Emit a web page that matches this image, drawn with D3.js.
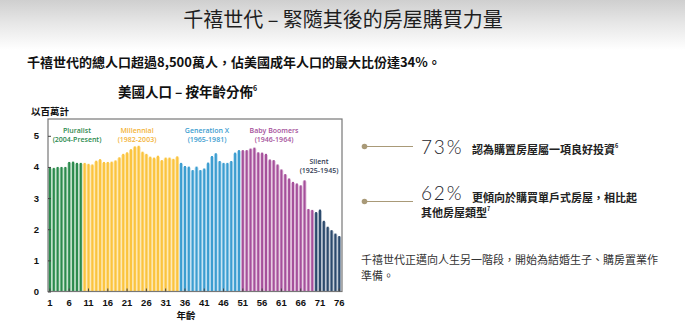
<!DOCTYPE html>
<html><head><meta charset="utf-8">
<script src="https://cdn.jsdelivr.net/npm/d3@7"></script>
<style>
body{margin:0;background:#fff;}
svg{display:block;font-family:"Noto Sans CJK TC","Noto Sans",sans-serif;}
</style></head>
<body>
<svg id="c" width="685" height="326"></svg>
<script>
// ---- data ----
const ages = [1,2,3,4,5,6,7,8,9,10,11,12,13,14,15,16,17,18,19,20,21,22,23,24,25,26,27,28,29,30,31,32,33,34,35,36,37,38,39,40,41,42,43,44,45,46,47,48,49,50,51,52,53,54,55,56,57,58,59,60,61,62,63,64,65,66,67,68,69,70,71,72,73,74,75,76];
const population = [
  3.98,3.97,4.00,4.00,4.00,4.16,4.17,4.13,4.13,
  4.13,4.10,4.08,4.20,4.25,4.16,4.16,4.17,4.21,4.31,4.42,4.47,4.57,4.66,4.68,4.49,4.42,4.33,4.30,4.36,4.22,4.30,4.30,4.26,4.34,
  4.13,4.03,4.01,3.90,4.01,3.90,3.95,4.14,4.35,4.44,4.19,4.13,4.13,4.19,4.46,4.54,
  4.54,4.54,4.59,4.62,4.47,4.46,4.42,4.24,4.22,4.08,3.92,3.77,3.63,3.52,3.47,3.41,3.57,2.65,2.62,
  2.55,2.63,2.27,2.08,1.97,1.86,1.78];
const generations = ["Pluralist","Millennial","Generation X","Baby Boomers","Silent"];
const genYears = ["(2004-Present)","(1982-2003)","(1965-1981)","(1946-1964)","(1925-1945)"];
const genFirstAge = [1,10,35,51,70];
const genLastAge = [9,34,50,69,76];
const yTicks = [0,1,2,3,4,5];
const xTicks = [1,6,11,16,21,26,31,36,41,46,51,56,61,66,71,76];

// ---- style ----
const dark = ["#2b8a4d","#fbc43e","#3b9dd0","#a5509b","#2c4a6c"];
const pale = ["#b9dcc3","#fde3a3","#b8dcf0","#e2c0dc","#b4bfcd"];
const labelCol = ["#2b8a4d","#f3b43a","#3b9dd0","#a5509b","#333b55"];

const svg = d3.select("#c");
const defs = svg.append("defs");
const g = defs.append("linearGradient").attr("id","bg").attr("x1",0).attr("y1",0).attr("x2",0).attr("y2",1);
g.append("stop").attr("offset","0%").attr("stop-color","#cfcfcf");
g.append("stop").attr("offset","45%").attr("stop-color","#e6e6e6");
g.append("stop").attr("offset","100%").attr("stop-color","#ffffff");
svg.append("rect").attr("x",0).attr("y",0).attr("width",685).attr("height",50).attr("fill","url(#bg)");

// titles
svg.append("text").attr("x",343).attr("y",27).attr("text-anchor","middle")
  .attr("font-size",20).attr("fill","#1e1e1e").text("千禧世代 – 緊隨其後的房屋購買力量");
svg.append("text").attr("x",27).attr("y",67).attr("font-size",13).attr("font-weight","bold")
  .attr("fill","#111").text("千禧世代的總人口超過8,500萬人，佔美國成年人口的最大比份達34%。");
const st = svg.append("text").attr("x",118).attr("y",97).attr("font-size",13.5).attr("font-weight","bold").attr("fill","#111");
st.append("tspan").text("美國人口 – 按年齡分佈");
st.append("tspan").attr("font-size",7).attr("dy",-6).text("6");

// scales
const x = d3.scaleBand().domain(ages).range([48,341.2]).padding(0);
const y = d3.scaleLinear().domain([0,5]).range([291.5,135.8]);
const genOf = a => genFirstAge.findIndex((f,i)=> a>=f && a<=genLastAge[i]);

// bars
const bars = svg.append("g");
ages.forEach((a,i)=>{
  const gi = genOf(a);
  bars.append("rect").attr("x",x(a)).attr("y",y(population[i])+1)
    .attr("width",x.bandwidth()).attr("height",y(0)-y(population[i])-1).attr("fill",pale[gi]);
  bars.append("rect").attr("x",x(a)+0.9).attr("y",y(population[i]))
    .attr("width",x.bandwidth()-1.8).attr("height",y(0)-y(population[i])).attr("fill",dark[gi]);
});

// frame
svg.append("rect").attr("x",48).attr("y",119).attr("width",294).attr("height",172.5)
  .attr("fill","none").attr("stroke","#777").attr("stroke-width",1.2);

// y axis
const ya = svg.append("g").attr("transform","translate(48,0)")
  .call(d3.axisLeft(y).tickValues(yTicks).tickSize(-3).tickPadding(9).tickFormat(d3.format("d")));
ya.select(".domain").remove();
ya.selectAll("line").attr("stroke","#444");
ya.selectAll("text").attr("font-size",9.5).attr("font-weight","bold").attr("fill","#111")
  .attr("font-family","Liberation Sans, Arial, sans-serif");

// x axis
const xa = svg.append("g").attr("transform","translate(0,291.5)")
  .call(d3.axisBottom(x).tickValues(xTicks).tickSize(-3).tickPadding(8));
xa.select(".domain").remove();
xa.selectAll("line").attr("stroke","#444");
xa.selectAll("text").attr("font-size",9.5).attr("font-weight","bold").attr("fill","#111")
  .attr("font-family","Liberation Sans, Arial, sans-serif");

svg.append("text").attr("x",186).attr("y",319).attr("text-anchor","middle").attr("font-size",9.5)
  .attr("font-weight","bold").attr("fill","#111").text("年齡");
svg.append("text").attr("x",31).attr("y",115).attr("font-size",9.5)
  .attr("font-weight","bold").attr("fill","#111").text("以百萬計");

// generation labels
const labX = [77,137,207,274,319];
const labY = [133,133,133,133,164];
generations.forEach((n,i)=>{
  svg.append("text").attr("x",labX[i]).attr("y",labY[i]).attr("text-anchor","middle")
    .attr("font-size",7).attr("font-family","Open Sans, Noto Sans, sans-serif").attr("font-weight","600")
    .attr("fill",labelCol[i]).text(n);
  svg.append("text").attr("x",labX[i]).attr("y",labY[i]+8.5).attr("text-anchor","middle")
    .attr("font-size",7).attr("font-family","Open Sans, Noto Sans, sans-serif").attr("font-weight","600")
    .attr("fill",labelCol[i]).text(genYears[i]);
});

// right side callouts
const gold = "#a99a78";
[[146.5],[201.5]].forEach(([cy])=>{
  svg.append("line").attr("x1",364).attr("x2",413).attr("y1",cy).attr("y2",cy).attr("stroke",gold).attr("stroke-width",1.2);
  svg.append("circle").attr("cx",364.5).attr("cy",cy).attr("r",2.8).attr("fill",gold);
});
function pct(yy, num){
  svg.append("text").attr("x",421).attr("y",yy).attr("font-size",19).attr("font-weight",300)
    .attr("font-family","Lato, Open Sans, sans-serif").attr("letter-spacing",1.8).attr("fill","#1d1d2b").text(num);
}
pct(154,"73%");
pct(200,"62%");
const t1 = svg.append("text").attr("x",472).attr("y",154).attr("font-size",11).attr("font-weight","bold").attr("fill","#222");
t1.append("tspan").text("認為購置房屋屬一項良好投資");
t1.append("tspan").attr("font-size",5.5).attr("dy",-6).text("6");
svg.append("text").attr("x",472).attr("y",201.5).attr("font-size",11).attr("font-weight","bold").attr("fill","#222")
  .text("更傾向於購買單戶式房屋，相比起");
const t2 = svg.append("text").attr("x",421).attr("y",217).attr("font-size",11).attr("font-weight","bold").attr("fill","#222");
t2.append("tspan").text("其他房屋類型");
t2.append("tspan").attr("font-size",5.5).attr("dy",-6).text("7");
svg.append("text").attr("x",361).attr("y",264).attr("font-size",11).attr("fill","#333")
  .text("千禧世代正邁向人生另一階段，開始為結婚生子、購房置業作");
svg.append("text").attr("x",361).attr("y",280).attr("font-size",11).attr("fill","#333").text("準備。");
</script>
</body></html>
